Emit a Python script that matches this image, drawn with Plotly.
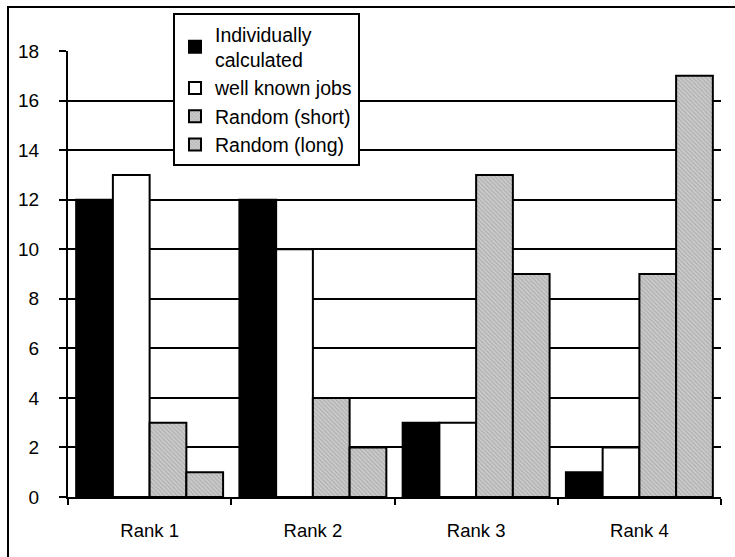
import plotly.graph_objects as go

categories = ["Rank 1", "Rank 2", "Rank 3", "Rank 4"]
individually = [12, 12, 3, 1]
well_known = [13, 10, 3, 2]
random_short = [3, 4, 13, 9]
random_long = [1, 2, 9, 17]
y_ticks = [0, 2, 4, 6, 8, 10, 12, 14, 16, 18]

FONT = "Liberation Sans, Arial, sans-serif"

fig = go.Figure()
fig.add_trace(go.Bar(name="Individually<br>calculated", x=categories, y=individually,
                     marker=dict(color="black", line=dict(color="black", width=2))))
fig.add_trace(go.Bar(name="well known jobs", x=categories, y=well_known,
                     marker=dict(color="white", line=dict(color="black", width=2))))
fig.add_trace(go.Bar(name="Random (short)", x=categories, y=random_short,
                     marker=dict(color="#c0c0c0", line=dict(color="black", width=2),
                                 pattern=dict(shape="\\", size=3, solidity=0.3,
                                              fgcolor="#858585", bgcolor="#cacaca"))))
fig.add_trace(go.Bar(name="Random (long)", x=categories, y=random_long,
                     marker=dict(color="#c0c0c0", line=dict(color="black", width=2),
                                 pattern=dict(shape="\\", size=3, solidity=0.3,
                                              fgcolor="#858585", bgcolor="#cacaca"))))

W, H = 735, 557
L, R, T, B = 68, 14, 51, 60
pw, ph = W - L - R, H - T - B

fig.update_layout(
    width=W, height=H,
    margin=dict(l=L, r=R, t=T, b=B),
    paper_bgcolor="white", plot_bgcolor="white",
    barmode="group", bargap=0.1, bargroupgap=0,
    font=dict(family=FONT, size=18, color="black"),
    showlegend=True,
    legend=dict(x=(173 - L) / pw, y=1 + (T - 13) / ph, xanchor="left", yanchor="top",
                bgcolor="white", bordercolor="black", borderwidth=2,
                font=dict(family=FONT, size=19.5, color="black"),
                tracegroupgap=4, itemwidth=30),
    xaxis=dict(type="category", categoryarray=categories, range=[-0.5, 3.5],
               showline=True, linecolor="black", linewidth=2,
               ticks="outside", ticklen=6, tickwidth=2, tickcolor="black",
               tickson="boundaries", showgrid=False, zeroline=False,
               ticklabelstandoff=16,
               tickfont=dict(family=FONT, size=18.5, color="black")),
    xaxis2=dict(type="category", categoryarray=categories, range=[-0.5, 3.5],
                overlaying="x", anchor="y", side="bottom",
                ticks="inside", ticklen=6, tickwidth=2, tickcolor="black",
                tickson="boundaries", showticklabels=False, showgrid=False,
                showline=False, zeroline=False),
    yaxis=dict(range=[0, 18], tickvals=y_ticks,
               showline=True, linecolor="black", linewidth=2,
               ticks="outside", ticklen=7, tickwidth=2, tickcolor="black",
               showgrid=True, gridcolor="black", gridwidth=2, zeroline=False,
               ticklabelstandoff=16,
               tickfont=dict(family=FONT, size=19, color="black")),
)

# outer frame (partly cropped at right and bottom like the original)
fig.add_shape(type="rect", xref="paper", yref="paper",
              x0=(8 - L) / pw, x1=1 + (R + 20) / pw,
              y0=-(B + 20) / ph, y1=1 + (T - 7) / ph,
              line=dict(color="black", width=2), fillcolor="rgba(0,0,0,0)", layer="below")

fig.write_html("out.html")
